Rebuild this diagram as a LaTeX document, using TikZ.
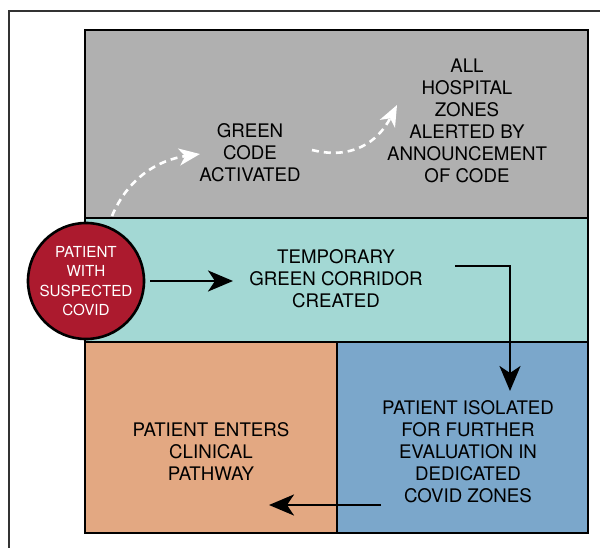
\documentclass[tikz,border=0pt]{standalone}
\usepackage{fontspec}
\setmainfont{TeX Gyre Heros}
\usetikzlibrary{arrows.meta}
\definecolor{cgray}{HTML}{B0B0B0}
\definecolor{cteal}{HTML}{A3D8D4}
\definecolor{corange}{HTML}{E3A882}
\definecolor{cblue}{HTML}{7BA7CB}
\definecolor{cred}{HTML}{AC1A2E}
\definecolor{cframe}{HTML}{333333}
\tikzset{
  zonebox/.style={draw=black,line width=2.8pt},
  lbl/.style={align=center,font=\fontsize{18.7}{22}\selectfont,text=black,inner sep=0pt},
  flow/.style={line width=2.6pt,-{Stealth[length=25pt,width=21pt,inset=7pt]}},
  dflow/.style={white,line width=2.6pt,dash pattern=on 7pt off 5pt,-{Stealth[length=21pt,width=17pt,inset=6pt,fill=white,sep=0pt]}},
}
\begin{document}
\begin{tikzpicture}[x=1pt,y=-1pt]
\useasboundingbox (0,0) rectangle (600,548);
% outer frame
\draw[cframe,line width=1.2pt] (9,548) -- (9,11) -- (600,11);
% zones
\fill[cgray] (85,30) rectangle (588,218);
\fill[cteal] (85,218) rectangle (588,342);
\fill[corange] (85,342) rectangle (337,533);
\fill[cblue] (337,342) rectangle (588,533);
\draw[zonebox] (85,30) rectangle (588,533);
\draw[zonebox] (85,218) -- (588,218);
\draw[zonebox] (85,342) -- (588,342);
\draw[zonebox] (337,342) -- (337,533);
% texts
\node[lbl] (code) at (250,153) {GREEN\\CODE\\ACTIVATED};
\node[lbl] (alert) at (467,121) {ALL\\HOSPITAL\\ZONES\\ALERTED BY\\ANNOUNCEMENT\\OF CODE};
\node[lbl] (corr) at (336,279) {TEMPORARY\\GREEN CORRIDOR\\CREATED};
\node[lbl] (iso) at (468,452) {PATIENT ISOLATED\\FOR FURTHER\\EVALUATION IN\\DEDICATED\\COVID ZONES};
\node[lbl] (path) at (211,452) {PATIENT ENTERS\\CLINICAL\\PATHWAY};
% patient circle
\node[circle,draw=black,line width=2.6pt,fill=cred,minimum size=110pt,inner sep=0pt,
      align=center,text=white,font=\fontsize{15.2}{19.5}\selectfont] (pat) at (86,281)
      {PATIENT\\WITH\\SUSPECTED\\COVID};
% connectors
\coordinate (a1s) at (150,281);
\coordinate (a1e) at (233,281);
\draw[flow] (a1s) -- (a1e);
\coordinate (a2s) at (455,266);
\coordinate (a2m) at (510,266);
\coordinate (a2e) at (510,391);
\draw[flow] (a2s) -- (a2m) -- (a2e);
\coordinate (a3s) at (381,505);
\coordinate (a3e) at (269,505);
\draw[flow] (a3s) -- (a3e);
\coordinate (d1s) at (112,216);
\coordinate (d1e) at (200,154);
\draw[dflow] (d1s) .. controls (128,178) and (158,160) .. (d1e);
\coordinate (d2s) at (312,150);
\coordinate (d2e) at (397,105);
\draw[dflow] (d2s) .. controls (352,160) and (378,142) .. (d2e);
\end{tikzpicture}
\end{document}
